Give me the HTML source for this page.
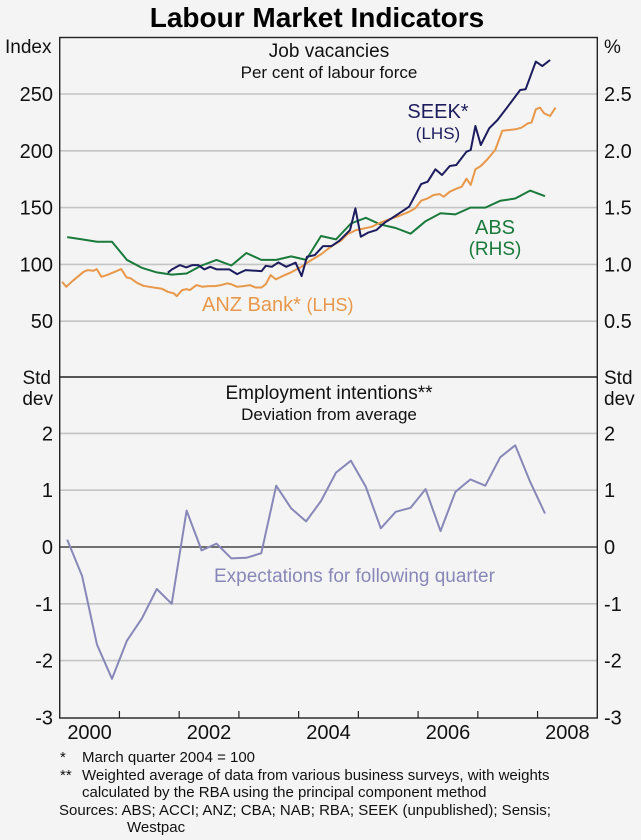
<!DOCTYPE html>
<html><head><meta charset="utf-8"><style>
body{margin:0;background:#f4f4f4;}
svg{display:block;font-family:"Liberation Sans",Arial,sans-serif;}
</style></head><body>
<svg id="c" width="641" height="840" viewBox="0 0 641 840" xmlns="http://www.w3.org/2000/svg">
<rect width="641" height="840" fill="#f4f4f4"/>
<text x="317" y="27" text-anchor="middle" font-size="28" font-weight="bold">Labour Market Indicators</text>
<g id="grid"></g>
<g id="series"></g>
<g id="labels" font-size="19" fill="#111">
<text x="5" y="53">Index</text>
<text x="604" y="53">%</text>
<text x="51" y="384" text-anchor="end">Std</text>
<text x="53" y="405" text-anchor="end">dev</text>
<text x="604" y="384">Std</text>
<text x="604" y="405">dev</text>
<text x="329" y="57" text-anchor="middle" font-size="19">Job vacancies</text>
<text x="329" y="78" text-anchor="middle" font-size="17">Per cent of labour force</text>
<text x="329" y="399" text-anchor="middle" font-size="19">Employment intentions**</text>
<text x="329" y="420" text-anchor="middle" font-size="17">Deviation from average</text>
<text x="438" y="118" text-anchor="middle" font-size="20" fill="#1c1c5e">SEEK*</text>
<text x="438" y="139" text-anchor="middle" font-size="17" fill="#1c1c5e">(LHS)</text>
<text x="495" y="234" text-anchor="middle" font-size="20" fill="#1a7a3c">ABS</text>
<text x="495" y="255" text-anchor="middle" font-size="19" fill="#1a7a3c">(RHS)</text>
<text x="202" y="311" font-size="20" fill="#e8984a">ANZ Bank* <tspan font-size="18">(LHS)</tspan></text>
<text x="214" y="582" font-size="19" fill="#8888b8">Expectations for following quarter</text>
</g>
<g font-size="15" fill="#111">
<text x="60" y="762">*</text>
<text x="82" y="762">March quarter 2004 = 100</text>
<text x="60" y="780">**</text>
<text x="82" y="780">Weighted average of data from various business surveys, with weights</text>
<text x="82" y="797">calculated by the RBA using the principal component method</text>
<text x="59" y="815">Sources: ABS; ACCI; ANZ; CBA; NAB; RBA; SEEK (unpublished); Sensis;</text>
<text x="127" y="832">Westpac</text>
</g>
</svg>
<script>
const topTicks=[50,100,150,200,250];
const topTickLabelsL=["50","100","150","200","250"];
const topTickLabelsR=["0.5","1.0","1.5","2.0","2.5"];
const botTicks=[-3,-2,-1,0,1,2];
const botTickLabels=["-3","-2","-1","0","1","2"];
const yearLabels=["2000","2002","2004","2006","2008"];
const yearLabelVals=[2000,2002,2004,2006,2008];

const anzDates=[2000.04,2000.11,2000.20,2000.30,2000.40,2000.47,2000.56,2000.62,2000.70,2000.79,2000.92,2001.03,2001.12,2001.19,2001.29,2001.40,2001.50,2001.60,2001.71,2001.81,2001.91,2001.96,2002.05,2002.12,2002.18,2002.29,2002.39,2002.49,2002.60,2002.70,2002.80,2002.87,2002.97,2003.08,2003.18,2003.28,2003.38,2003.45,2003.53,2003.62,2003.73,2003.86,2004.03,2004.21,2004.38,2004.48,2004.58,2004.72,2004.82,2004.96,2005.10,2005.23,2005.34,2005.51,2005.68,2005.85,2005.95,2006.05,2006.16,2006.26,2006.36,2006.43,2006.53,2006.64,2006.73,2006.81,2006.88,2006.96,2007.05,2007.15,2007.29,2007.41,2007.63,2007.73,2007.84,2007.90,2007.97,2008.04,2008.11,2008.21,2008.30];
const anzValues=[84.7,80.3,84.7,89.1,93.5,95.0,94.4,95.9,89.1,90.6,93.5,95.9,88.6,87.7,83.9,81.2,80.3,79.5,78.6,75.9,74.5,72.1,77.4,78.3,77.4,81.8,80.3,80.9,80.9,81.8,83.3,82.7,80.3,80.9,81.8,79.7,79.7,82.7,90.6,86.8,89.7,92.7,97.4,103.8,109.1,113.2,117.0,121.4,126.7,130.2,131.7,133.2,136.1,139.6,142.6,146.4,149.3,156.1,158.1,161.1,161.9,159.6,164.0,166.6,168.4,175.4,169.9,183.7,186.6,191.9,200.7,217.7,218.9,220.3,224.2,225.0,236.5,238.0,233.0,230.6,238.0];

const seekDates=[2001.81,2001.88,2002.01,2002.12,2002.22,2002.32,2002.42,2002.52,2002.63,2002.84,2002.97,2003.11,2003.38,2003.45,2003.55,2003.66,2003.79,2003.95,2004.05,2004.14,2004.27,2004.41,2004.55,2004.68,2004.86,2004.95,2005.04,2005.16,2005.30,2005.44,2005.64,2005.85,2006.05,2006.16,2006.29,2006.40,2006.53,2006.64,2006.81,2006.88,2006.96,2007.05,2007.19,2007.33,2007.50,2007.71,2007.80,2007.97,2008.08,2008.21];
const seekValues=[92.7,95.6,99.4,97.4,99.4,99.4,95.6,97.9,95.6,95.6,91.5,95.0,94.1,98.8,97.9,101.8,97.9,101.5,89.7,106.8,108.2,116.1,116.1,120.8,130.2,149.3,124.4,127.9,130.2,136.7,143.4,150.8,170.7,172.8,183.7,178.7,186.6,187.5,199.2,200.7,221.8,205.1,219.8,227.1,238.8,253.5,254.1,278.5,274.6,279.9];

const absStartYear=2000;
const absValues=[1.24,1.22,1.20,1.20,1.04,0.97,0.93,0.91,0.92,0.99,1.04,0.99,1.10,1.04,1.04,1.07,1.04,1.25,1.22,1.36,1.41,1.35,1.32,1.27,1.38,1.45,1.44,1.50,1.50,1.56,1.58,1.65,1.60];

const expStartYear=2000;
const expValues=[0.13,-0.51,-1.72,-2.32,-1.65,-1.26,-0.74,-1.0,0.64,-0.06,0.06,-0.2,-0.19,-0.11,1.08,0.68,0.45,0.81,1.31,1.52,1.06,0.33,0.62,0.69,1.02,0.28,0.97,1.19,1.08,1.58,1.79,1.15,0.59];

const L=59.7,R=597.3,TOP=37.5,MID=377,BOT=718;
const xS=t=>L+(t-2000)*(R-L)/9;
const yTop=v=>378-(v)*(378-94)/250;
const yTopR=p=>yTop(p*100);
const yBot=v=>547-v*56.8;
const NS="http://www.w3.org/2000/svg";
const svg=document.getElementById('c');
const grid=document.getElementById('grid');
const ser=document.getElementById('series');
function mk(tag,attrs,parent){const e=document.createElementNS(NS,tag);for(const k in attrs)e.setAttribute(k,attrs[k]);parent.appendChild(e);return e;}

topTicks.forEach((v,i)=>{
  const y=yTop(v);
  const g=mk('line',{x1:L,x2:R,y1:y,y2:y,stroke:'#c4c4c4','stroke-width':1.6},grid);
  
  
  const t=mk('text',{x:53,y:y+7,'text-anchor':'end','font-size':20,fill:'#111'},grid);
  t.textContent=topTickLabelsL[i];
  
  
  const t2=mk('text',{x:604,y:y+7,'font-size':20,fill:'#111'},grid);
  t2.textContent=topTickLabelsR[i];
  
  
});
botTicks.forEach((v,i)=>{
  const y=yBot(v);
  if(v!==-3){
    const g=mk('line',{x1:L,x2:R,y1:y,y2:y,stroke:v===0?'#222':'#c4c4c4','stroke-width':v===0?1.3:1.6},grid);
    
    
  }
  const t=mk('text',{x:53,y:y+7,'text-anchor':'end','font-size':20,fill:'#111'},grid);
  t.textContent=botTickLabels[i];
  
  
  const t2=mk('text',{x:604,y:y+7,'font-size':20,fill:'#111'},grid);
  t2.textContent=botTickLabels[i];
  
  
});
for(let yr=2001;yr<=2008;yr++){
  const x=xS(yr);
  const tk=mk('line',{x1:x,x2:x,y1:BOT,y2:BOT-7,stroke:'#222','stroke-width':1.2},grid);
  
  
}
yearLabels.forEach((s,i)=>{
  const t=mk('text',{x:xS(yearLabelVals[i]+0.5),y:739,'text-anchor':'middle','font-size':20,fill:'#111'},grid);
  t.textContent=s;
  
  
});
const fr=mk('rect',{x:L,y:TOP,width:R-L,height:BOT-TOP,fill:'none',stroke:'#222','stroke-width':1.4},grid);


const dv=mk('line',{x1:L,x2:R,y1:MID,y2:MID,stroke:'#222','stroke-width':1.4},grid);



function line(pts,color,name){
  const p=mk('polyline',{points:pts.map(q=>q[0].toFixed(1)+','+q[1].toFixed(1)).join(' '),fill:'none',stroke:color,'stroke-width':2,'stroke-linejoin':'round'},ser);
  
  
}
line(absValues.map((v,i)=>[xS(absStartYear+(i+0.5)/4),yTopR(v)]),'#1a7a3c','abs-line');
line(anzDates.map((d,i)=>[xS(d),yTop(anzValues[i])]),'#e8984a','anz-line');
line(seekDates.map((d,i)=>[xS(d),yTop(seekValues[i])]),'#1c1c5e','seek-line');
line(expValues.map((v,i)=>[xS(expStartYear+(i+0.5)/4),yBot(v)]),'#8888b8','expectations-line');
svg.appendChild(document.getElementById('labels'));
</script>
</body></html>
